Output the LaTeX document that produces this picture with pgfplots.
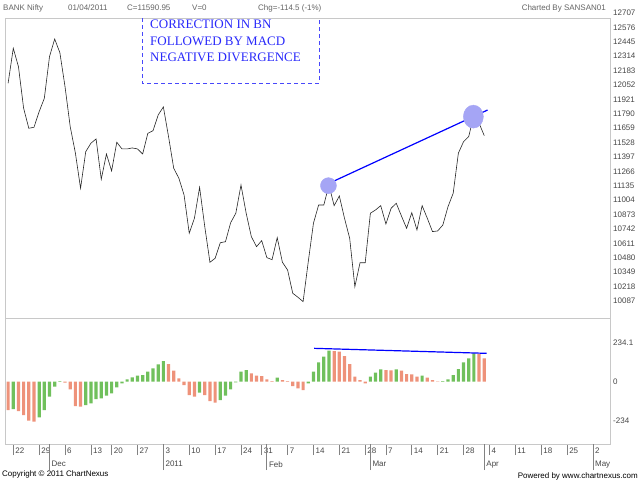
\documentclass[border=0pt]{standalone}
\usepackage{fontspec}
\setmainfont{Liberation Sans}
\newfontfamily\notefont{Liberation Serif}
\usepackage{pgfplots}
\usepackage{pgfplotstable}
\pgfplotsset{compat=1.18}

\definecolor{upbar}{RGB}{112,192,92}
\definecolor{dnbar}{RGB}{238,146,122}
\definecolor{frame}{RGB}{200,200,200}
\definecolor{lbl}{RGB}{70,70,70}
\definecolor{hdr}{RGB}{100,100,100}
\definecolor{note}{RGB}{40,40,250}
\definecolor{spot}{RGB}{165,165,245}
\definecolor{tickc}{RGB}{130,130,130}
\newcommand\lblfont{\fontsize{8bp}{9bp}\selectfont}

% BANK Nifty closes, one per trading day (0 = 19 Nov 2010)
\pgfplotstableread{
idx close
0 12067
1 12386
2 12218
3 11840
4 11658
5 11667
6 11809
7 11931
8 12310
9 12470
10 12346
11 12036
12 11673
13 11433
14 11112
15 11445
16 11522
17 11561
18 11194
19 11424
20 11270
21 11531
22 11470
23 11470
24 11479
25 11470
26 11424
27 11612
28 11636
29 11779
30 11852
31 11582
32 11294
33 11203
34 11051
35 10703
36 10839
37 11121
38 10763
39 10439
40 10475
41 10617
42 10626
43 10799
44 10885
45 11142
46 10885
47 10672
48 10581
49 10636
50 10481
51 10463
52 10663
53 10439
54 10369
55 10157
56 10121
57 10081
58 10445
59 10794
60 10960
61 10960
62 11142
63 10954
64 11042
65 10839
66 10657
67 10217
68 10435
69 10435
70 10885
71 10915
72 10954
73 10787
74 10930
75 10976
76 10860
77 10748
78 10890
79 10733
80 10954
81 10839
82 10718
83 10724
84 10778
85 10945
86 11067
87 11431
88 11536
89 11582
90 11779
91 11704
92 11591
}\closes

% MACD histogram, rising days
\pgfplotstableread{
idx h
1 -164
6 -214
7 -170
8 -90
9 -30
10 4
15 -140
16 -130
17 -104
18 -100
19 -84
20 -70
21 -34
22 -10
23 14
24 26
25 36
26 40
27 60
28 80
29 104
30 124
37 -66
41 -110
42 -84
43 -46
44 -4
45 60
46 70
52 24
58 -10
59 60
60 116
61 150
62 186
70 30
71 54
72 74
75 74
80 36
84 4
85 14
86 40
87 76
88 116
89 140
90 170
}\histup

% MACD histogram, falling days
\pgfplotstableread{
idx h
0 -170
2 -176
3 -200
4 -234
5 -240
11 -6
12 -46
13 -146
14 -150
31 106
32 66
33 20
34 -20
35 -80
36 -90
38 -80
39 -116
40 -126
47 50
48 36
49 34
50 14
51 4
53 10
54 4
55 -26
56 -40
57 -50
63 184
64 180
65 154
66 106
67 30
68 10
69 -10
73 70
74 68
76 66
77 46
78 44
79 30
81 24
82 10
83 2
91 166
92 140
}\histdn

\begin{document}
\begin{tikzpicture}
\useasboundingbox (0,0) rectangle (640bp,-480bp);

% header and footer
\begin{scope}[every node/.style={inner sep=0pt, font=\lblfont, text=hdr}]
\node[anchor=base west] at (3bp,-10bp) {BANK Nifty};
\node[anchor=base west] at (68bp,-10bp) {01/04/2011};
\node[anchor=base west] at (127bp,-10bp) {C=11590.95};
\node[anchor=base west] at (192bp,-10bp) {V=0};
\node[anchor=base west] at (258bp,-10bp) {Chg=-114.5 (-1\%)};
\node[anchor=base east] at (606bp,-10bp) {Charted By SANSAN01};
\node[anchor=base west, text=black] at (2bp,-476bp) {Copyright \textcopyright{} 2011 ChartNexus};
\node[anchor=base east, text=black] at (638bp,-478bp) {Powered by www.chartnexus.com};
\node[anchor=west, text=lbl] at (613bp,-13bp) {12707};
\end{scope}

\begin{axis}[
  at={(5bp,-18bp)}, anchor=north west,
  scale only axis, width=605bp, height=300bp,
  xmin=-0.6, xmax=116.3, ymin=9932, ymax=12661,
  xtick=\empty,
  scaled y ticks=false,
  ytick={10087,10218,10349,10480,10611,10742,10873,11004,11135,11266,11397,11528,11659,11790,11921,12052,12183,12314,12445,12576},
  yticklabels={10087,10218,10349,10480,10611,10742,10873,11004,11135,11266,11397,11528,11659,11790,11921,12052,12183,12314,12445,12576},
  yticklabel pos=right,
  major tick length=0pt,
  yticklabel style={anchor=west, inner sep=0pt, xshift=3bp, font=\lblfont, text=lbl},
  axis line style={draw=frame, line width=1bp},
  clip=false,
]
\addplot[spot, only marks, mark=*, mark size=8bp, mark options={draw=spot, fill=spot}] coordinates {(61.9,11136)};
\addplot[spot, only marks, mark=*, mark size=11.5bp, mark options={draw=spot, fill=spot, xscale=0.87}] coordinates {(89.9,11764)};
\addplot[black!85, line width=0.6bp] table[x=idx, y=close] {\closes};
\addplot[blue, line width=1.2bp] coordinates {(60.9,11133) (92.65,11824)};
\end{axis}

% annotation box
\draw[note!85!white, line width=0.8bp, dash pattern=on 4bp off 3bp]
  (142bp,-18bp) -- (142bp,-83bp) -- (319bp,-83bp) -- (319bp,-18bp);
\begin{scope}[every node/.style={inner sep=0pt, anchor=base west, text=note, font=\notefont\fontsize{13bp}{15bp}\selectfont}]
\node at (150bp,-28.4bp) {CORRECTION IN BN};
\node at (150bp,-45bp) {FOLLOWED BY MACD};
\node at (150bp,-61bp) {NEGATIVE DIVERGENCE};
\end{scope}

\begin{axis}[
  at={(5bp,-318bp)}, anchor=north west,
  scale only axis, width=605bp, height=126bp,
  xmin=-0.6, xmax=116.3, ymin=-374, ymax=382,
  xtick={1,6,11,16,20,25,30,35,40,45,49,54,59,64,69,73,78,83,88,93,98,103,108,113},
  xticklabels={22,29,6,13,20,27,3,10,17,24,31,7,14,21,28,7,14,21,28,4,11,18,25,2},
  extra x ticks={8,30,50,70,92,113},
  extra x tick labels={Dec,2011,Feb,Mar,Apr,May},
  extra x tick style={major tick length=26bp, xticklabel style={yshift=2bp}},
  xtick pos=bottom, tick align=outside, major tick length=11bp,
  xticklabel style={anchor=north west, inner sep=0pt, xshift=2bp, yshift=7bp, font=\lblfont, text=lbl},
  x tick style={draw=tickc, line width=0.8bp},
  ytick={-234,0,234.1}, yticklabels={-234,0,234.1},
  ytick style={draw=none},
  yticklabel pos=right,
  yticklabel style={anchor=west, inner sep=0pt, xshift=-8bp, font=\lblfont, text=lbl},
  axis line style={draw=frame, line width=1bp},
]
\addplot[ybar, bar width=3.2bp, bar shift=0pt, fill=upbar, draw=none] table[x=idx, y=h] {\histup};
\addplot[ybar, bar width=3.2bp, bar shift=0pt, fill=dnbar, draw=none] table[x=idx, y=h] {\histdn};
\addplot[blue, line width=1.2bp] coordinates {(59.15,200) (92.46,170)};
\end{axis}
\end{tikzpicture}
\end{document}
